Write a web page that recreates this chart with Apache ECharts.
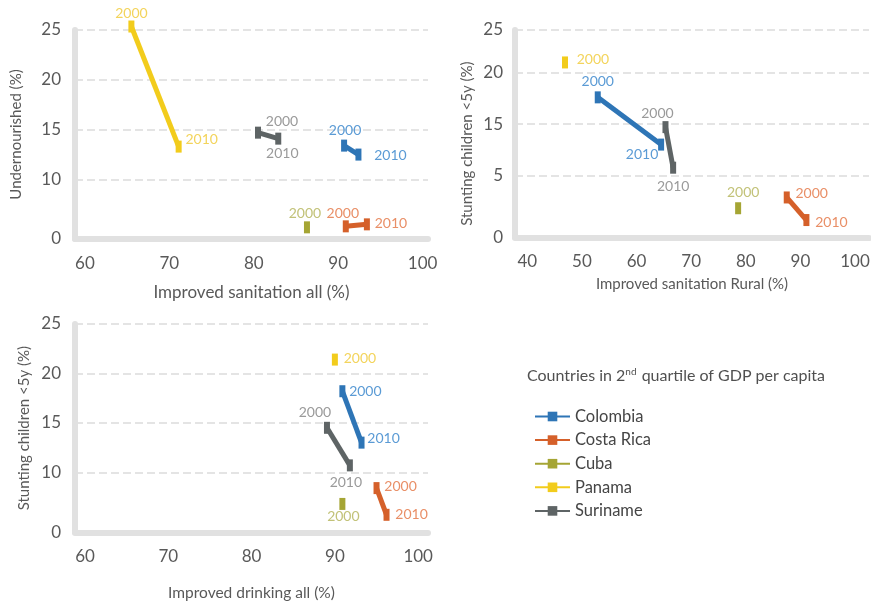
<!DOCTYPE html>
<html>
<head>
<meta charset="utf-8">
<script src="https://cdn.jsdelivr.net/npm/echarts@6/dist/echarts.min.js"></script>
<style>html,body{margin:0;padding:0;background:#fff;}#c{width:871px;height:605px;}</style>
</head>
<body>
<div id="c"></div>
<script>
// ---------- data ----------
const countries = ['Colombia', 'Costa Rica', 'Cuba', 'Panama', 'Suriname'];
const years = ['2000', '2010'];

// Chart 1: Improved sanitation all (%) vs Undernourished (%)
const sanAll2000 = [90.7, 90.9, 86.3, 65.5, 80.5];
const sanAll2010 = [92.4, 93.4, null, 71.1, 82.9];
const underNour2000 = [13.4, 5.3, 5.2, 25.35, 14.7];
const underNour2010 = [12.5, 5.5, null, 13.3, 14.1];

// Chart 2: Improved sanitation Rural (%) vs Stunting children <5y (%)
const sanRural2000 = [52.9, 87.5, 78.6, 46.9, 65.3];
const sanRural2010 = [64.5, 91.1, null, null, 66.7];
const stuntR2000 = [17.6, 7.85, 6.8, 21.0, 14.7];
const stuntR2010 = [13.0, 5.65, null, null, 10.75];

// Chart 3: Improved drinking all (%) vs Stunting children <5y (%)
const drink2000 = [90.9, 95.0, 90.9, 90.0, 89.05];
const drink2010 = [93.2, 96.2, null, null, 91.8];
const stunt2000 = [18.2, 8.4, 6.8, 21.4, 14.5];
const stunt2010 = [13.0, 5.7, null, null, 10.7];

// tick labels
const xTicks1 = [60, 70, 80, 90, 100];
const xTicks2 = [40, 50, 60, 70, 80, 90, 100];
const xTicks3 = [60, 70, 80, 90, 100];
const yTickLabels1 = ['0', '10', '15', '20', '25'];
const yTickLabels2 = ['0', '5', '15', '20', '25'];
const yTickLabels3 = ['0', '10', '15', '20', '25'];

// ---------- styles ----------
const FONT = 'Lato, "Open Sans", sans-serif';
const lineColors = ['#2e75b6', '#d5602a', '#a5a534', '#f2cc1c', '#5e6465'];
const labelColors = ['#5b9bd5', '#e98f67', '#c2c278', '#f3d45c', '#9a9a9a'];
// label offsets [dx,dy] per chart, per country, per year
const labelOffsets = [
  [[[1,-15],[32,1]], [[-3,-13],[24,-1]], [[-2,-14],null], [[0,-13],[23,-7]], [[24,-11],[4,15]]],
  [[[0,-16],[-19,10]], [[25,-4],[25,2]], [[5,-16],null], [[28,-3],null], [[-8,-14],[0,19]]],
  [[[23,0],[22,-4]], [[24,-2],[25,0]], [[1,13],null], [[25,-1],null], [[-12,-15],[-4,17]]]
];

const scales = [
  {xMin: 58.82, xMax: 100.64, yMin: 4.03, yMax: 25},
  {xMin: 37.75, xMax: 102.56, yMin: 3.97, yMax: 24.16},
  {xMin: 58.8, xMax: 101.18, yMin: 3.93, yMax: 25}
];
scales[0].yVals = [scales[0].yMin, 10, 15, 20, 25];
scales[1].yVals = [scales[1].yMin, 10, 15, 20, scales[1].yMax];
scales[2].yVals = [scales[2].yMin, 10, 15, 20, 25];
const xTickSets = [xTicks1, xTicks2, xTicks3];
const yLabelSets = [yTickLabels1, yTickLabels2, yTickLabels3];
const xNames = ['Improved sanitation all (%)', 'Improved sanitation Rural (%)', 'Improved drinking all (%)'];
const yNames = ['Undernourished (%)', 'Stunting children <5y (%)', 'Stunting children <5y (%)'];
const grids = [
  {left: 75, top: 30, width: 353, height: 209},
  {left: 515, top: 30, width: 354, height: 207.3},
  {left: 75, top: 324, width: 353, height: 208.3}
];
const xNameGap = [45, 39, 53];
const xNameSize = [17, 15, 15.5];
const yNameGap = [51, 40, 43];
const yNamePad = [[0, 0, 0, 0], [0, 20, 0, 0], [0, 0, 0, 0]];
const yLabelMargin = [14, 12, 14];

const dataSets = [
  [sanAll2000, underNour2000, sanAll2010, underNour2010],
  [sanRural2000, stuntR2000, sanRural2010, stuntR2010],
  [drink2000, stunt2000, drink2010, stunt2010]
];

const axisTextColor = '#595959';
const xAxes = [], yAxes = [], series = [];
for (let g = 0; g < 3; g++) {
  const sc = scales[g];
  xAxes.push({
    type: 'value', gridIndex: g, min: sc.xMin, max: sc.xMax,
    name: xNames[g], nameLocation: 'middle', nameGap: xNameGap[g],
    nameTextStyle: {color: axisTextColor, fontSize: xNameSize[g], fontFamily: FONT},
    axisLine: {show: true, lineStyle: {color: '#e1e1e1', width: 6}},
    axisTick: {show: false, customValues: xTickSets[g]},
    splitLine: {show: false},
    axisLabel: {customValues: xTickSets[g], margin: 16, color: axisTextColor, fontSize: 17, fontFamily: FONT,
      formatter: v => String(Math.round(v))}
  });
  const yv = sc.yVals, yl = yLabelSets[g];
  yAxes.push({
    type: 'value', gridIndex: g, min: sc.yMin, max: sc.yMax,
    name: yNames[g], nameLocation: 'middle', nameGap: yNameGap[g], nameRotate: 90,
    nameTextStyle: {color: axisTextColor, fontSize: 15, fontFamily: FONT, padding: yNamePad[g]},
    axisLine: {show: true, lineStyle: {color: '#e1e1e1', width: 6}},
    axisTick: {show: false, customValues: yv},
    axisLabel: {customValues: yv, margin: yLabelMargin[g], color: axisTextColor, fontSize: 17, fontFamily: FONT,
      formatter: function (v) {
        for (let j = 0; j < yv.length; j++) if (Math.abs(yv[j] - v) < 1e-6) return yl[j];
        return '';
      }},
    splitLine: {show: true, lineStyle: {color: ['rgba(0,0,0,0)', '#dcdcdc', '#dcdcdc', '#dcdcdc', '#dcdcdc'], width: 1.5, type: [8, 4]}}
  });
  const [x0, y0, x1, y1] = dataSets[g];
  countries.forEach((name, i) => {
    const pts = [];
    const xs = [x0[i], x1[i]], ys = [y0[i], y1[i]];
    for (let k = 0; k < 2; k++) {
      if (xs[k] == null || ys[k] == null) continue;
      const off = labelOffsets[g][i][k] || [0, 0];
      pts.push({
        value: [xs[k], ys[k]],
        label: {show: true, position: 'inside', offset: off, formatter: years[k],
          color: labelColors[i], fontSize: 14, fontFamily: FONT}
      });
    }
    series.push({
      type: 'line', name: name, xAxisIndex: g, yAxisIndex: g,
      data: pts, symbol: 'rect', symbolSize: [6, 12], showSymbol: true,
      clip: false,
      lineStyle: {color: lineColors[i], width: 5},
      itemStyle: {color: lineColors[i]},
      emphasis: {disabled: true},
      z: 3
    });
  });
}

const chart = echarts.init(document.getElementById('c'), null, {renderer: 'canvas'});
chart.setOption({
  animation: false,
  backgroundColor: '#ffffff',
  textStyle: {fontFamily: FONT},
  title: {
    text: 'Countries in 2{sup|nd} quartile of GDP per capita',
    left: 527, top: 367, padding: 0,
    textStyle: {color: '#505050', fontSize: 16, fontWeight: 'normal', fontFamily: FONT,
      rich: {sup: {fontSize: 10, color: '#505050', fontFamily: FONT, padding: [0, 1, 8, 0]}}}
  },
  legend: {
    orient: 'vertical', left: 534, top: 408, padding: 0,
    itemWidth: 35, itemHeight: 12, itemGap: 6.6,
    data: countries,
    textStyle: {color: '#454545', fontSize: 16.5, fontFamily: FONT}
  },
  grid: grids.map(gr => Object.assign({containLabel: false, outerBoundsMode: 'none'}, gr)),
  xAxis: xAxes,
  yAxis: yAxes,
  series: series
});
</script>
</body>
</html>
